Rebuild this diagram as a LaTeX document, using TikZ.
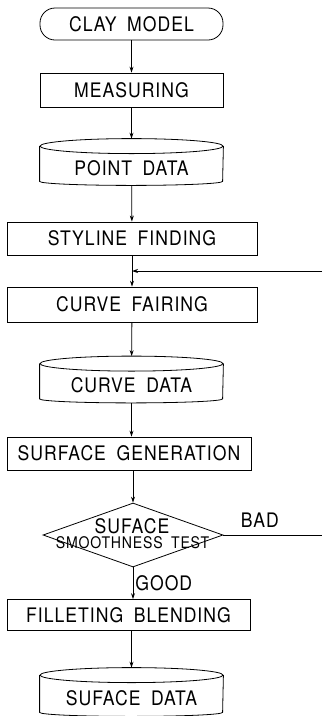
\documentclass[tikz,border=0pt]{standalone}
\usepackage{fontspec}
\setmainfont{TeX Gyre Heros}[LetterSpace=5, FakeStretch=0.88, WordSpace=1.8]
\usetikzlibrary{shapes.geometric,arrows.meta}

\begin{document}
\begin{tikzpicture}[x=1pt, y=-1pt, >={Stealth[length=6pt,width=4pt]}, line width=0.8pt,
    every node/.style={font=\fontsize{20}{22}\selectfont},
    block/.style={draw, minimum height=33pt, inner sep=0pt},
    term/.style={draw, rounded corners=15pt, minimum width=183pt, minimum height=32pt},
    store/.style={minimum width=183pt, minimum height=46pt, inner sep=0pt, text height=26pt, text depth=0pt},
    decision/.style={draw, diamond, minimum width=180pt, minimum height=64pt, inner sep=0pt}]

    \useasboundingbox (0, 0) rectangle (322, 716);

    % flow
    \node[term] (clay) at (131.5, 24) {CLAY MODEL};
    \node[block, minimum width=183pt, minimum height=34pt] (meas) at (131.5, 90) {MEASURING};
    \node[store] (pdata) at (131.5, 162) {POINT DATA};
    \node[block, minimum width=250pt] (style) at (132, 238.5) {STYLINE FINDING};
    \node[block, minimum width=250pt, minimum height=35pt] (fair) at (132, 304.5) {CURVE FAIRING};
    \node[store] (cdata) at (131.5, 379.5) {CURVE DATA};
    \node[block, minimum width=244pt] (gen) at (129, 453.5) {SURFACE GENERATION};
    \node[decision] (test) at (133, 535) {};
    \node (testa) at (132, 526) {SUFACE};
    \node[font=\fontsize{16}{18}\selectfont] (testb) at (132.5, 543) {SMOOTHNESS TEST};
    \node[block, minimum width=243pt, minimum height=31pt] (fill) at (128.5, 615) {FILLETING BLENDING};
    \node[store, minimum height=48pt] (sdata) at (131.5, 692) {SUFACE DATA};

    % data stores
    \foreach \n in {pdata, cdata, sdata} {
        \draw ([yshift=-7.5pt]\n.north) ellipse [x radius=91.5pt, y radius=7.5pt];
        \draw ([yshift=-7.5pt]\n.north west) -- ([yshift=4pt]\n.south west)
            arc [start angle=180, end angle=360, x radius=91.5pt, y radius=4pt]
            -- ([yshift=-7.5pt]\n.north east);
    }

    \draw[->] (clay) -- (meas);
    \draw[->] (meas) -- (pdata);
    \draw[->] (pdata) -- (style);
    \draw[->] (style) -- (fair);
    \draw[->] (fair) -- (cdata);
    \draw[->] (cdata) -- (cdata |- gen.north);
    \draw[->] (gen.south -| test) -- (test);
    \draw[->] (test) -- node[right, inner sep=2pt] {GOOD} (test |- fill.north);
    \draw[->] (fill.south -| sdata) -- (sdata);

    % loops back
    \coordinate (back) at (322, 271);
    \coordinate (bad) at (322, 535);
    \draw[->] (back) -- (style.south |- back);
    \draw (test.east) -- node[above=4pt, pos=0.37] {BAD} (bad);
\end{tikzpicture}
\end{document}
